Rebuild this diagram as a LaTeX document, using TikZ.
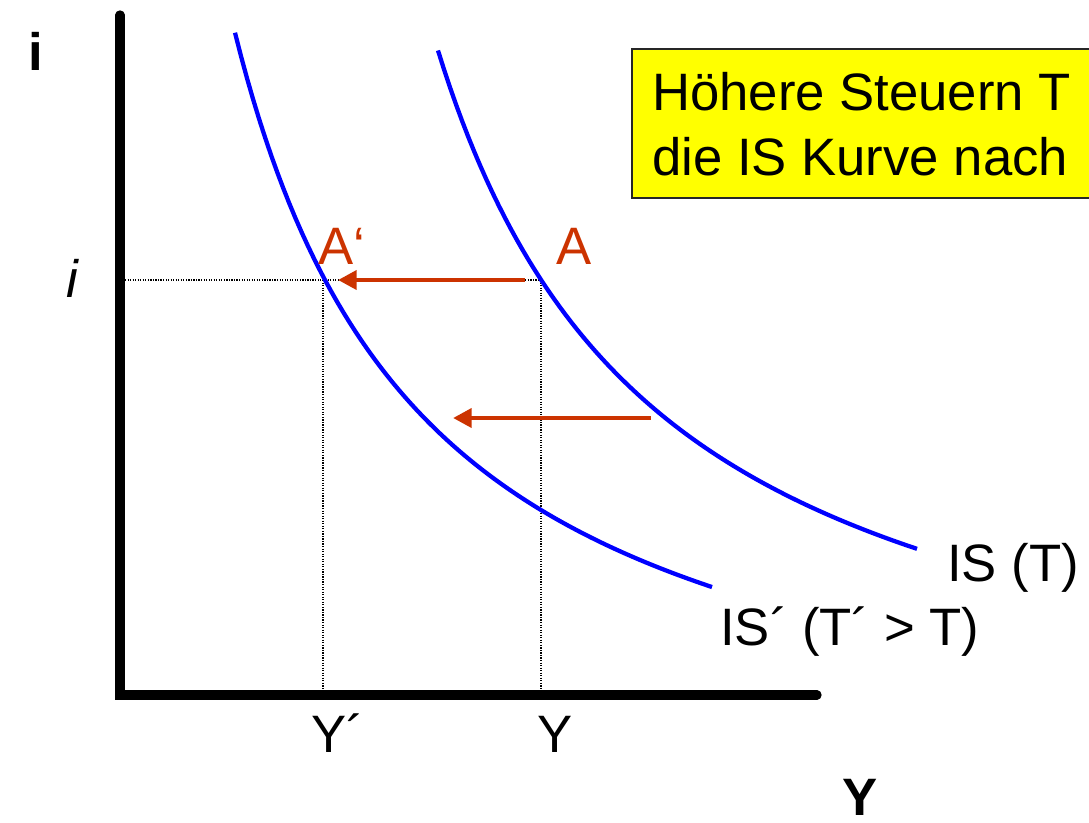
\documentclass[tikz,border=0pt]{standalone}
\usepackage{fontspec}
\setmainfont{Liberation Sans}
\usetikzlibrary{arrows.meta}
\definecolor{shiftred}{HTML}{CC3300}
\definecolor{curveblue}{HTML}{0000FF}
\definecolor{boxyellow}{HTML}{FFFF00}
\begin{document}
\begin{tikzpicture}[x=0.75pt,y=-0.75pt,
  axis/.style={line width=7pt,line cap=round},
  guide/.style={densely dotted,line width=0.9pt},
  iscurve/.style={curveblue,line width=3.2pt},
  shiftarrow/.style={shiftred,line width=3.5pt,-{Triangle[length=14pt,width=14pt]}},
  lbl/.style={font=\fontsize{39.5}{46}\selectfont,inner sep=0pt},
  redlbl/.style={lbl,text=shiftred}]
\useasboundingbox (0,0) rectangle (1089,822);
\clip (0,0) rectangle (1089,822);
% yellow box
\node[draw=black!85,line width=1.5pt,fill=boxyellow,anchor=north west,minimum width=520pt,minimum height=112pt,inner sep=0pt] (box) at (631,48) {};
\node[lbl,anchor=base west,align=left] (boxtext1) at (652,110) {Höhere Steuern T};
\node[lbl,anchor=base west,align=left] (boxtext2) at (652,175) {die IS Kurve nach};
% guides
\coordinate (iaxis) at (125,280);
\coordinate (Ap) at (325,280);
\coordinate (A) at (541,280);
\coordinate (Ypb) at (323,690);
\coordinate (Yb) at (541,690);
\draw[guide] (iaxis) -- (A);
\draw[guide] (323,280) -- (Ypb);
\draw[guide] (A) -- (Yb);
% axes
\coordinate (O) at (120,695);
\coordinate (top) at (120,15);
\coordinate (right) at (817,695);
\draw[axis] (top) -- (O) -- (right);
% curves
\draw[iscurve] plot[domain=438:917,samples=80] (\x,{785-1667.35/((\x-211)/100)});
\draw[iscurve] plot[domain=235:712,samples=80] (\x,{812-1508.7/((\x-41.4)/100)});
% arrows
\coordinate (a1s) at (525,280);
\coordinate (a1e) at (338,280);
\coordinate (a2s) at (651,418);
\coordinate (a2e) at (453,418);
\draw[shiftarrow] (a1s) -- (a1e);
\draw[shiftarrow] (a2s) -- (a2e);
% labels
\node[lbl,anchor=base] (ilab) at (36,70) {\textbf{i}};
\node[lbl,anchor=base] (iitl) at (73,297) {\textit{i}};
\node[redlbl,anchor=base west] (Aplab) at (318,264) {A‘};
\node[redlbl,anchor=base west] (Alab) at (556,264) {A};
\node[lbl,anchor=base west] (Yplab) at (311,752) {Y´};
\node[lbl,anchor=base west] (Ylab) at (537,752) {Y};
\node[lbl,anchor=base west] (Yaxis) at (842,815) {\textbf{Y}};
\node[lbl,anchor=base west] (ISlab) at (947,581) {IS (T)};
\node[lbl,anchor=base west] (ISplab) at (720,645) {IS´ (T´ > T)};
\end{tikzpicture}
\end{document}
